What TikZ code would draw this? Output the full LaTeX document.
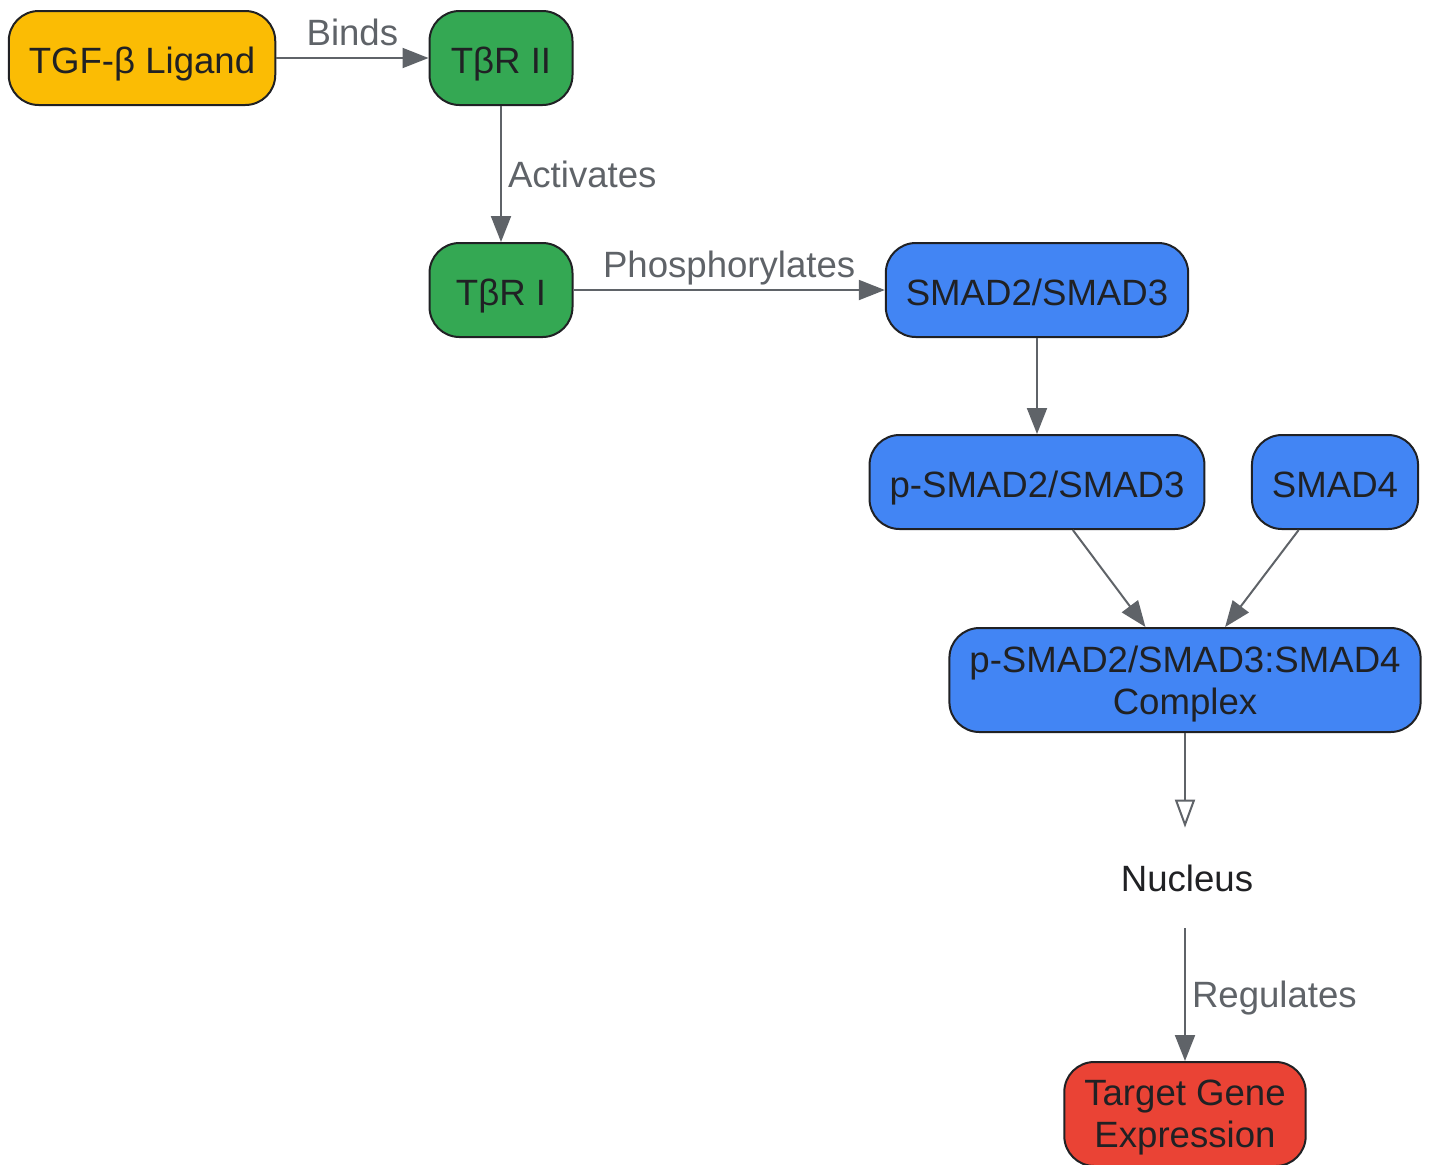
\documentclass[tikz,border=0pt]{standalone}
\usepackage{fontspec}
\setmainfont{Liberation Sans}
\usepackage{tikz}
\usepackage{xcolor}
\usetikzlibrary{positioning,shapes,arrows.meta}
\definecolor{ligandcol}{HTML}{FBBC04}
\definecolor{receptcol}{HTML}{34A853}
\definecolor{smadcol}{HTML}{4285F4}
\definecolor{genecol}{HTML}{EA4335}
\definecolor{edgecol}{HTML}{202124}
\definecolor{linkcol}{HTML}{5F6368}
\begin{document}
\begin{tikzpicture}[x=0.5pt,y=-0.5pt]
\tikzstyle{every node}+=[font=\fontsize{18.3}{21}\selectfont, text=edgecol]
\tikzstyle{box}=[draw=edgecol, line width=1pt, rounded corners=15pt, minimum height=47pt, inner xsep=10pt, text height=15pt, text depth=0pt]
\tikzstyle{twoline}=[minimum height=52pt, align=center, text height=, text depth=-2pt]
\tikzstyle{link}=[draw=linkcol, line width=1pt, -{Triangle[length=13pt,width=10pt]}]
\tikzstyle{lbl}=[text=linkcol, inner sep=3pt, text depth=0pt]
\useasboundingbox (0,0) rectangle (1430,1164);
\node [box, fill=ligandcol] (tgf) at (142,58) {TGF-β Ligand};
\node [box, fill=receptcol, minimum width=71.5pt] (tr2) at (501,58) {TβR II};
\node [box, fill=receptcol, minimum width=71.5pt] (tr1) at (501,290) {TβR I};
\node [box, fill=smadcol] (smad) at (1037,290) {SMAD2/SMAD3};
\node [box, fill=smadcol] (psmad) at (1037,482) {p-SMAD2/SMAD3};
\node [box, fill=smadcol] (smad4) at (1335,482) {SMAD4};
\node [box, twoline, fill=smadcol] (cplx) at (1185,680) {p-SMAD2/SMAD3:SMAD4\\Complex};
\node [minimum height=50pt] (nuc) at (1187,878) {Nucleus};
\node [box, twoline, fill=genecol] (gene) at (1185,1114) {Target Gene\\Expression};
\draw [link] (tgf) -- node [lbl, above=3pt] {Binds} (tr2);
\draw [link] (tr2) -- node [lbl, right] {Activates} (tr1);
\draw [link] (tr1) -- node [lbl, above=3pt] {Phosphorylates} (smad);
\draw [link] (smad) -- (psmad);
\draw [link] (psmad) -- (cplx);
\draw [link] (smad4) -- (cplx);
\draw [draw=linkcol, line width=1pt, -{Triangle[open,length=14pt,width=10pt,fill=white]}] (cplx.south) -- ([xshift=-1pt]nuc.north);
\draw [link] ([xshift=-1pt]nuc.south) -- node [lbl, right] {Regulates} (gene);
\end{tikzpicture}
\end{document}
